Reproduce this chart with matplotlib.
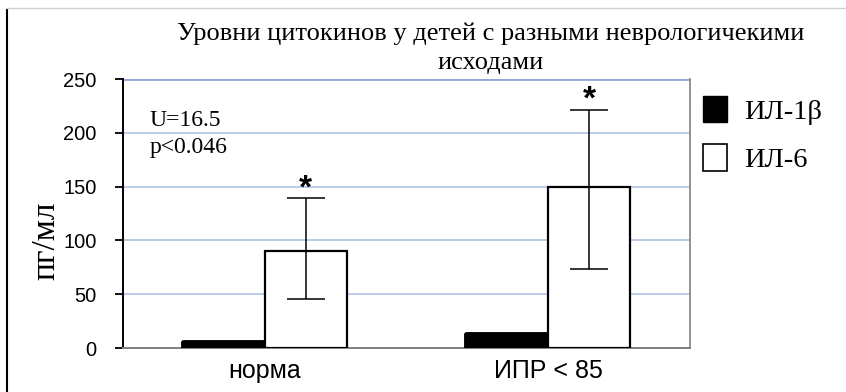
import matplotlib.pyplot as plt
from matplotlib.lines import Line2D
import numpy as np

# data
groups = ['норма', 'ИПР < 85']
il1b = [6, 13]
il6 = [90, 150]
il6_low = [46, 73]
il6_high = [139, 221]

serif = 'Liberation Serif'
sans = 'Liberation Sans'

fig = plt.figure(figsize=(8.46, 3.92), dpi=100)
ax = fig.add_axes([0.1454, 0.1122, 0.6702, 0.6862])

x = np.arange(len(groups))
w = 0.29

ax.bar(x - w / 2, il1b, w, color='black', edgecolor='black', linewidth=3.5,
       joinstyle='round', zorder=3)
ax.bar(x + w / 2, il6, w, color='white', edgecolor='black', linewidth=1.6,
       zorder=3)

il6 = np.array(il6)
yerr = [il6 - np.array(il6_low), np.array(il6_high) - il6]
ax.errorbar(x + w / 2, il6, yerr=yerr, fmt='none', ecolor='black',
            elinewidth=1.1, capsize=14, capthick=1.1, zorder=4)
for xi, top in zip(x + w / 2, il6_high):
    ax.text(xi, top + 9, '*', ha='center', va='center', fontsize=24,
            fontweight='bold', family=sans, zorder=5)

ax.set_xlim(-0.5, 1.5)
ax.set_ylim(0, 250)
ax.set_yticks([0, 50, 100, 150, 200, 250])
ax.yaxis.grid(True, color='#b4c7e7', linewidth=1.3, zorder=0)
ax.set_axisbelow(True)
ax.axhline(250, color='#8eaadb', linewidth=2, zorder=2)

ax.spines['top'].set_visible(False)
ax.spines['left'].set_color('black')
ax.spines['left'].set_linewidth(1.4)
ax.spines['bottom'].set_color('#808080')
ax.spines['bottom'].set_linewidth(1.4)
ax.spines['right'].set_color('#808080')
ax.spines['right'].set_linewidth(1.2)

ax.set_xticks(x)
ax.set_xticklabels(groups, fontsize=18, family=sans)
ax.tick_params(axis='x', length=0, pad=8)
ax.tick_params(axis='y', length=6, width=1.3, labelsize=14.5, pad=13)
for lab in ax.get_yticklabels():
    lab.set_family(sans)

ax.set_ylabel('пг/мл', fontsize=24, family=serif)
ax.yaxis.set_label_coords(-0.108, 0.40)

ax.text(0.047, 0.845, 'U=16.5', transform=ax.transAxes, fontsize=17,
        family=serif, va='center')
ax.text(0.047, 0.745, 'p<0.046', transform=ax.transAxes, fontsize=17,
        family=serif, va='center')

fig.text(0.58, 0.877, 'Уровни цитокинов у детей с разными неврологичекими\nисходами',
         ha='center', va='center', fontsize=19, family=serif, linespacing=1.45)

handles = [
    plt.Rectangle((0, 0), 1, 1, facecolor='black', edgecolor='black'),
    plt.Rectangle((0, 0), 1, 1, facecolor='white', edgecolor='black', linewidth=1.2),
]
fig.legend(handles, ['ИЛ-1β', 'ИЛ-6'], loc='upper left',
           bbox_to_anchor=(0.831, 0.755), frameon=False, borderpad=0,
           borderaxespad=0,
           prop={'family': serif, 'size': 20.5}, handlelength=0.85,
           handleheight=1.05, handletextpad=0.6, labelspacing=0.68)

# outer frame lines
fig.add_artist(Line2D([0.008, 0.008], [0, 0.975], color='black', linewidth=1.5))
fig.add_artist(Line2D([0.008, 1], [0.98, 0.98], color='#d0d0d0', linewidth=1))

fig.savefig('out.png', dpi=100)
